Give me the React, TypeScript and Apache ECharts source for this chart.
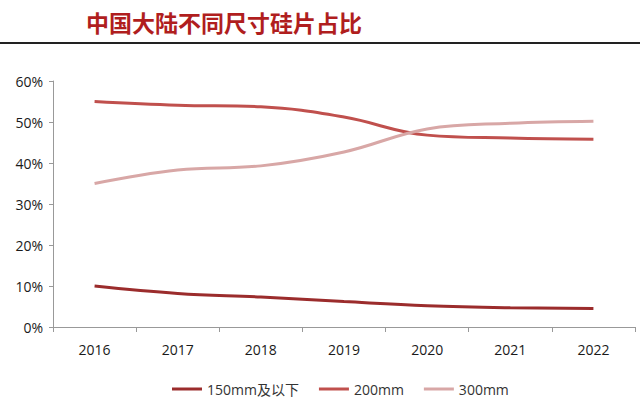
import React, { useEffect, useRef } from "react";
import * as echarts from "echarts";

const categories = ["2016", "2017", "2018", "2019", "2020", "2021", "2022"];
const seriesNames = ["150mm及以下", "200mm", "300mm"];
const s150 = [10.0, 8.2, 7.3, 6.2, 5.2, 4.7, 4.5];
const s200 = [55.0, 54.1, 53.7, 51.2, 46.8, 46.1, 45.8];
const s300 = [35.0, 38.3, 39.3, 42.7, 48.3, 49.7, 50.2];
const colors = ["#9B2C2C", "#C0504D", "#D8A7A6"];

export default function App() {
  const ref = useRef<HTMLDivElement>(null);
  useEffect(() => {
    document.body.style.margin = "0";
    const chart = echarts.init(ref.current!, null, { renderer: "svg" });
    const data = [s150, s200, s300];
    chart.setOption({
      animation: false,
      backgroundColor: "#ffffff",
      title: {
        text: "中国大陆不同尺寸硅片占比",
        left: 81,
        top: 5,
        textStyle: {
          color: "#B01E1E",
          fontSize: 23,
          fontWeight: "bold",
          fontFamily: "Noto Sans CJK SC",
        },
      },
      graphic: [
        {
          type: "line",
          shape: { x1: 0, y1: 43, x2: 640, y2: 43 },
          style: { stroke: "#222", lineWidth: 2 },
        },
      ],
      legend: {
        bottom: 10,
        left: 167,
        itemWidth: 30,
        itemHeight: 3,
        itemGap: 20,
        icon: "rect",
        textStyle: { color: "#333", fontSize: 14, fontFamily: "Open Sans, Noto Sans CJK SC" },
        data: seriesNames,
      },
      grid: { left: 53, right: 5, top: 81, bottom: 84 },
      xAxis: {
        type: "category",
        data: categories,
        boundaryGap: true,
        axisLine: { lineStyle: { color: "#999" } },
        axisTick: { show: true, alignWithLabel: false, lineStyle: { color: "#999" } },
        axisLabel: { color: "#1a1a1a", fontSize: 14, margin: 15, fontFamily: "Open Sans" },
      },
      yAxis: {
        type: "value",
        min: 0,
        max: 60,
        interval: 10,
        axisLine: { show: true, lineStyle: { color: "#999" } },
        axisTick: { show: true, lineStyle: { color: "#999" }, inside: false, length: 4 },
        splitLine: { show: false },
        axisLabel: { formatter: "{value}%", color: "#1a1a1a", fontSize: 14, fontFamily: "Open Sans", margin: 10 },
      },
      series: seriesNames.map((n, i) => ({
        name: n,
        type: "line",
        data: data[i],
        smooth: 0.4,
        symbol: "none",
        lineStyle: { width: 3, color: colors[i] },
        itemStyle: { color: colors[i] },
      })),
    });
    return () => chart.dispose();
  }, []);
  return <div ref={ref} style={{ width: 640, height: 411 }} />;
}
